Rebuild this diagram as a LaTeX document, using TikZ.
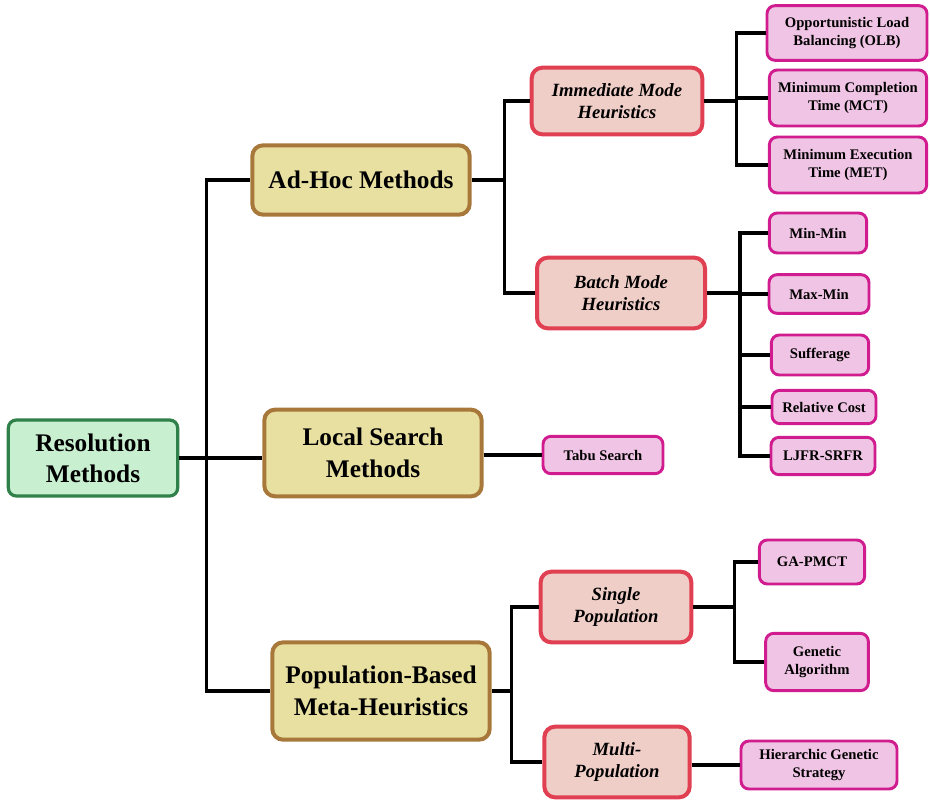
\documentclass[tikz,border=0pt]{standalone}
\usepackage{fontspec}
\setmainfont{Liberation Serif}
\usetikzlibrary{positioning}
\definecolor{rootfill}{HTML}{C8EFD0}
\definecolor{rootline}{HTML}{2F8049}
\definecolor{catfill}{HTML}{E8E0A0}
\definecolor{catline}{HTML}{A8783A}
\definecolor{modefill}{HTML}{F0CEC8}
\definecolor{modeline}{HTML}{E04052}
\definecolor{leaffill}{HTML}{F0C4E4}
\definecolor{leafline}{HTML}{D01C8E}
\begin{document}
\begin{tikzpicture}[x=0.75pt,y=-0.75pt,
  rootbox/.style={draw=rootline,fill=rootfill,line width=2.4pt,rounded corners=6pt,
    align=center,inner sep=0pt,font=\bfseries\fontsize{19}{23}\selectfont},
  catbox/.style={draw=catline,fill=catfill,line width=3pt,rounded corners=8pt,
    align=center,inner sep=0pt,font=\bfseries\fontsize{19}{24}\selectfont},
  modebox/.style={draw=modeline,fill=modefill,line width=3pt,rounded corners=8pt,
    align=center,inner sep=0pt,font=\bfseries\itshape\fontsize{14}{17}\selectfont},
  leafbox/.style={draw=leafline,fill=leaffill,line width=2.2pt,rounded corners=6pt,
    align=center,inner sep=0pt,font=\bfseries\fontsize{11}{13.5}\selectfont},
  link/.style={line width=2.3pt}]
\useasboundingbox (0,0) rectangle (930,799);
% first and second levels
\node[rootbox,minimum width=127pt,minimum height=57pt](res) at (93,458){Resolution\\ Methods};
\node[catbox,minimum width=163pt,minimum height=52pt](adhoc) at (361,180){Ad-Hoc Methods};
\node[catbox,minimum width=163pt,minimum height=65pt](local) at (373,453){Local Search\\ Methods};
\node[catbox,minimum width=163pt,minimum height=73pt](pop) at (381,691){Population-Based\\ Meta-Heuristics};
% modes
\node[modebox,minimum width=128pt,minimum height=50pt](imm) at (617,101){Immediate Mode\\ Heuristics};
\node[modebox,minimum width=126pt,minimum height=53pt](batch) at (621,293){Batch Mode\\ Heuristics};
\node[modebox,minimum width=113pt,minimum height=53pt](single) at (616,607){Single\\ Population};
\node[modebox,minimum width=109pt,minimum height=53pt](multi) at (617,762){Multi-\\ Population};
% leaves
\node[leafbox,minimum width=120pt,minimum height=41pt](olb) at (847,33){Opportunistic Load\\ Balancing (OLB)};
\node[leafbox,minimum width=118pt,minimum height=42pt](mct) at (848,98){Minimum Completion\\ Time (MCT)};
\node[leafbox,minimum width=118pt,minimum height=42pt](met) at (848,165){Minimum Execution\\ Time (MET)};
\node[leafbox,minimum width=73pt,minimum height=30pt](minmin) at (818,233){Min-Min};
\node[leafbox,minimum width=75pt,minimum height=29pt](maxmin) at (819,294){Max-Min};
\node[leafbox,minimum width=73pt,minimum height=30pt](suff) at (820,355){Sufferage};
\node[leafbox,minimum width=78pt,minimum height=25pt](relcost) at (824,407){Relative Cost};
\node[leafbox,minimum width=78pt,minimum height=28pt](ljfr) at (823,456){LJFR-SRFR};
\node[leafbox,minimum width=90pt,minimum height=28pt](tabu) at (603,455){Tabu Search};
\node[leafbox,minimum width=79pt,minimum height=33pt](gapmct) at (812,562){GA-PMCT};
\node[leafbox,minimum width=77pt,minimum height=43pt](ga) at (817,662){Genetic\\ Algorithm};
\node[leafbox,minimum width=117pt,minimum height=36pt](hgs) at (819,765){Hierarchic Genetic\\ Strategy};
% connectors
\draw[link] (res.east) -- ++(27,0) coordinate (rb);
\draw[link] (rb) |- (adhoc.west);
\draw[link] (rb) |- (pop.west);
\draw[link] (rb) -- (rb -| local.west);
\draw[link] (adhoc.east) -- ++(33,0) coordinate (ab);
\draw[link] (ab) |- (imm.west);
\draw[link] (ab) |- (batch.west);
\draw[link] (imm.east) -- ++(32,0) coordinate (ib);
\foreach \n in {olb,mct,met}{\draw[link] (ib) |- (\n.west);}
\draw[link] (batch.east) -- ++(33,0) coordinate (bb);
\foreach \n in {minmin,maxmin,suff,relcost,ljfr}{\draw[link] (bb) |- (\n.west);}
\draw[link] (tabu.west -| local.east) -- (tabu.west);
\draw[link] (pop.east) -- ++(20,0) coordinate (pb);
\draw[link] (pb) |- (single.west);
\draw[link] (pb) |- (multi.west);
\draw[link] (single.east) -- ++(41,0) coordinate (sb);
\draw[link] (sb) |- (gapmct.west);
\draw[link] (sb) |- (ga.west);
\draw[link] (hgs.west -| multi.east) -- (hgs.west);
\end{tikzpicture}
\end{document}
